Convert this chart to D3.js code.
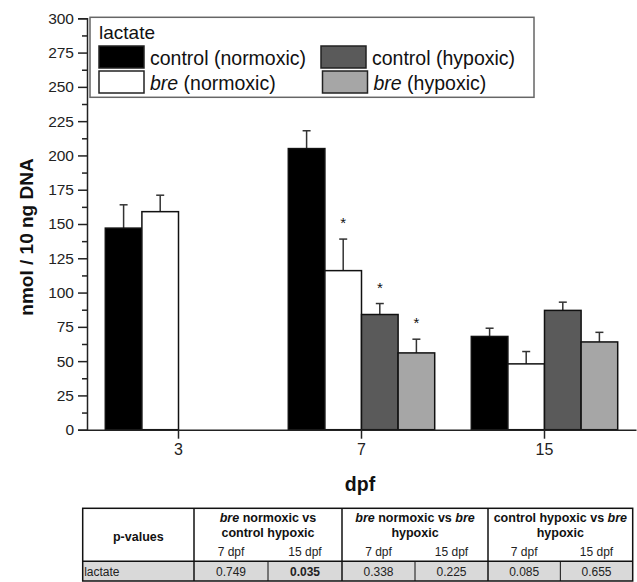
<!DOCTYPE html>
<html lang="en">
<head>
    <meta charset="UTF-8">
    <title>Lactate bar chart</title>
    <script src="https://d3js.org/d3.v7.min.js"></script>
    <style>
        body { margin: 0; background: #fff; }
        text { font-family: "Liberation Sans", Arial, sans-serif; }
    </style>
</head>
<body>
    <svg></svg>
    <script>
        // chart data
        const categories = ["3", "7", "15"];
        const seriesNames = ["control (normoxic)", "bre (normoxic)", "control (hypoxic)", "bre (hypoxic)"];
        const seriesColors = ["#000000", "#ffffff", "#5a5a5a", "#a6a6a6"];
        const controlNormoxic = [147, 205, 68];
        const breNormoxic = [159, 116, 48];
        const controlHypoxic = [null, 84, 87];
        const breHypoxic = [null, 56, 64];
        const controlNormoxicErr = [17, 13, 6];
        const breNormoxicErr = [12, 23, 9];
        const controlHypoxicErr = [null, 8, 6];
        const breHypoxicErr = [null, 10, 7];
        const significant = [[false, false, false], [false, true, true, true], [false, false, false, false]];
        const yTicks = [0, 25, 50, 75, 100, 125, 150, 175, 200, 225, 250, 275, 300];

        // p-value table data
        const comparisons = [["bre normoxic vs", "control hypoxic"], ["bre normoxic vs bre", "hypoxic"], ["control hypoxic vs bre", "hypoxic"]];
        const dpfLabels = ["7 dpf", "15 dpf"];
        const pValues = ["0.749", "0.035", "0.338", "0.225", "0.085", "0.655"];
        const pBold = [false, true, false, false, false, false];

        const values = [controlNormoxic, breNormoxic, controlHypoxic, breHypoxic];
        const errors = [controlNormoxicErr, breNormoxicErr, controlHypoxicErr, breHypoxicErr];

        const width = 637, height = 582;
        const svg = d3.select("svg").attr("width", width).attr("height", height);
        svg.append("rect").attr("width", width).attr("height", height).attr("fill", "#fff");

        const x = d3.scaleBand().domain(categories).range([87, 636]);
        const xs = d3.scaleBand().domain(d3.range(4))
            .range([x.bandwidth() * 0.1, x.bandwidth() * 0.9]);
        const y = d3.scaleLinear().domain([0, 300]).range([429.7, 18.3]);

        // bars
        const data = [];
        categories.forEach((c, ci) => {
            values.forEach((s, si) => {
                if (s[ci] != null) data.push({c, ci, si, v: s[ci], e: errors[si][ci]});
            });
        });

        const g = svg.append("g");
        const cx = d => x(d.c) + xs(d.si) + xs.bandwidth() / 2;

        // error bars (upper only)
        g.selectAll(".err").data(data).join("line")
            .attr("x1", cx).attr("x2", cx)
            .attr("y1", d => y(d.v)).attr("y2", d => y(d.v + d.e))
            .attr("stroke", "#333").attr("stroke-width", 1.5);
        g.selectAll(".cap").data(data).join("line")
            .attr("x1", d => cx(d) - 4).attr("x2", d => cx(d) + 4)
            .attr("y1", d => y(d.v + d.e)).attr("y2", d => y(d.v + d.e))
            .attr("stroke", "#333").attr("stroke-width", 1.5);

        g.selectAll(".bar").data(data).join("rect")
            .attr("x", d => x(d.c) + xs(d.si))
            .attr("y", d => y(d.v))
            .attr("width", xs.bandwidth())
            .attr("height", d => y(0) - y(d.v))
            .attr("fill", d => seriesColors[d.si])
            .attr("stroke", "#111").attr("stroke-width", 1.5);

        g.selectAll(".star").data(data.filter(d => significant[d.ci][d.si])).join("text")
            .attr("x", cx)
            .attr("y", d => y(d.v + d.e) - 11)
            .attr("text-anchor", "middle")
            .attr("font-size", 15)
            .attr("fill", "#111")
            .text("*");

        // axes
        const yAxis = svg.append("g").attr("transform", "translate(87,0)")
            .call(d3.axisLeft(y).tickValues(yTicks).tickSize(9).tickPadding(4));
        svg.append("g").attr("transform", "translate(87,0)")
            .call(d3.axisLeft(y).tickValues(yTicks.slice(0, -1).map(t => t + 12.5)).tickSize(5).tickFormat(""))
            .call(a => a.select(".domain").remove());
        const xAxis = svg.append("g").attr("transform", `translate(0,${y(0)})`)
            .call(d3.axisBottom(x).tickSize(9).tickPadding(5).tickSizeOuter(0));

        svg.selectAll(".domain, .tick line").attr("stroke", "#222").attr("stroke-width", 1.5);
        yAxis.selectAll("text").attr("font-size", 15.5).attr("fill", "#222").attr("font-family", "Liberation Sans, Arial, sans-serif");
        xAxis.selectAll("text").attr("font-size", 16).attr("fill", "#222").attr("font-family", "Liberation Sans, Arial, sans-serif");

        svg.append("text")
            .attr("transform", "translate(33,237) rotate(-90)")
            .attr("text-anchor", "middle")
            .attr("font-size", 19).attr("font-weight", "bold").attr("fill", "#111")
            .text("nmol / 10 ng DNA");
        svg.append("text")
            .attr("x", 360).attr("y", 491)
            .attr("text-anchor", "middle")
            .attr("font-size", 19.5).attr("font-weight", "bold").attr("fill", "#111")
            .text("dpf");

        // legend
        const lg = svg.append("g");
        lg.append("rect").attr("x", 90).attr("y", 17.3).attr("width", 444).attr("height", 80)
            .attr("fill", "#fff").attr("stroke", "#666").attr("stroke-width", 1.5);
        lg.append("text").attr("x", 99).attr("y", 38.5).attr("font-size", 19).attr("fill", "#111").text("lactate");
        const legendPos = [[99, 46], [99, 71], [321, 46], [322.5, 71]];
        seriesNames.forEach((name, i) => {
            const [lx, ly] = legendPos[i];
            lg.append("rect").attr("x", lx).attr("y", ly).attr("width", 45).attr("height", 22)
                .attr("fill", seriesColors[i]).attr("stroke", "#222").attr("stroke-width", 1.5);
            const t = lg.append("text").attr("x", lx + 51).attr("y", ly + 18.5)
                .attr("font-size", 19.5).attr("fill", "#111");
            const m = name.match(/^bre (.*)$/);
            if (m) {
                t.append("tspan").attr("font-style", "italic").text("bre");
                t.append("tspan").text(" " + m[1]);
            } else {
                t.text(name);
            }
        });

        // p-value table
        const tb = svg.append("g");
        const tLeft = 82.7, tRight = 632.7, tTop = 508.3, tMid = 561.3, tBottom = 581;
        const colX = [tLeft, 194, 342, 488, tRight];
        tb.append("rect").attr("x", tLeft).attr("y", tMid).attr("width", tRight - tLeft).attr("height", tBottom - tMid)
            .attr("fill", "#d9d9d9");
        tb.append("rect").attr("x", tLeft).attr("y", tTop).attr("width", tRight - tLeft).attr("height", tBottom - tTop)
            .attr("fill", "none").attr("stroke", "#111").attr("stroke-width", 1.5);
        tb.append("line").attr("x1", tLeft).attr("x2", tRight).attr("y1", tMid).attr("y2", tMid)
            .attr("stroke", "#111").attr("stroke-width", 1.5);
        colX.slice(1, -1).forEach(cxv => {
            tb.append("line").attr("x1", cxv).attr("x2", cxv).attr("y1", tTop).attr("y2", tBottom)
                .attr("stroke", "#111").attr("stroke-width", 1.5);
        });
        tb.append("text").attr("x", (tLeft + colX[1]) / 2).attr("y", 540.5).attr("text-anchor", "middle")
            .attr("font-size", 12.5).attr("font-weight", "bold").attr("fill", "#111").text("p-values");
        tb.append("text").attr("x", tLeft + 1.5).attr("y", 576)
            .attr("font-size", 12).attr("fill", "#222").text("lactate");

        comparisons.forEach((lines, gi) => {
            const x0 = colX[gi + 1], x1 = colX[gi + 2], mid = (x0 + x1) / 2;
            tb.append("line").attr("x1", mid).attr("x2", mid).attr("y1", tMid).attr("y2", tBottom)
                .attr("stroke", "#111").attr("stroke-width", 1);
            lines.forEach((ln, li) => {
                const t = tb.append("text").attr("x", mid).attr("y", 522.3 + li * 14.4).attr("text-anchor", "middle")
                    .attr("font-size", 12.5).attr("font-weight", "bold").attr("fill", "#111");
                ln.split(/(bre)/).filter(s => s).forEach(part => {
                    t.append("tspan").attr("font-style", part === "bre" ? "italic" : null).text(part);
                });
            });
            dpfLabels.forEach((lab, di) => {
                const sx = di === 0 ? (x0 + mid) / 2 : (mid + x1) / 2;
                tb.append("text").attr("x", sx).attr("y", 555.5).attr("text-anchor", "middle")
                    .attr("font-size", 12).attr("fill", "#222").text(lab);
                const k = gi * 2 + di;
                tb.append("text").attr("x", sx).attr("y", 576).attr("text-anchor", "middle")
                    .attr("font-size", 12).attr("font-weight", pBold[k] ? "bold" : null)
                    .attr("fill", "#222").text(pValues[k]);
            });
        });
    </script>
</body>
</html>
